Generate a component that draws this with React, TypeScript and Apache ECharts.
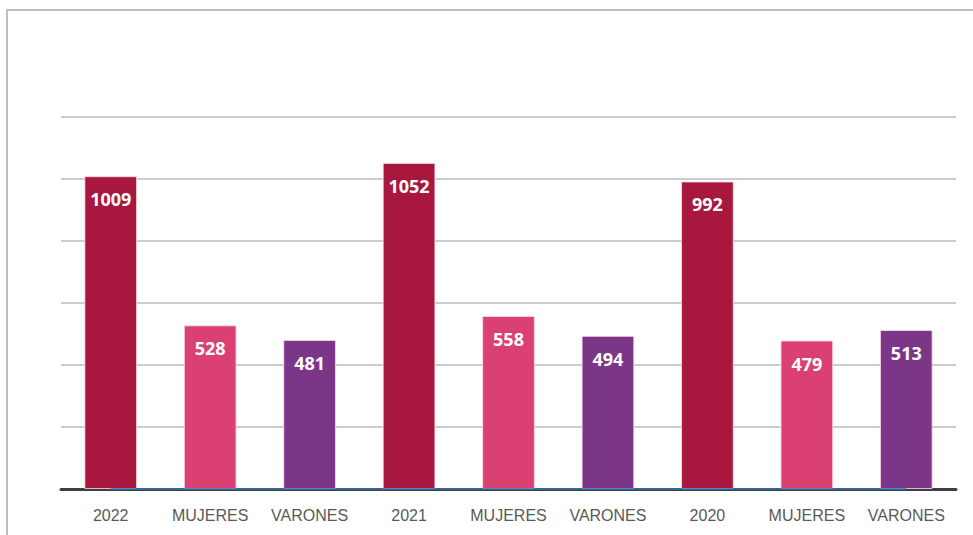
import React, { useEffect, useRef } from "react";
import * as echarts from "echarts";

const categories = ["2022", "MUJERES", "VARONES", "2021", "MUJERES", "VARONES", "2020", "MUJERES", "VARONES"];
const values = [1009, 528, 481, 1052, 558, 494, 992, 479, 513];
const barColors = ["#A8173E", "#DA4172", "#7C3688", "#A8173E", "#DA4172", "#7C3688", "#A8173E", "#DA4172", "#7C3688"];

export default function App() {
  const ref = useRef<HTMLDivElement>(null);
  useEffect(() => {
    document.body.style.margin = "0";
    const chart = echarts.init(ref.current!, null, { renderer: "svg" });
    chart.setOption({
      animation: false,
      backgroundColor: "#ffffff",
      graphic: [
        {
          type: "polyline",
          shape: { points: [[7, 535], [7, 10], [973, 10]] },
          style: { stroke: "#BFBFBF", lineWidth: 2, fill: "none" },
          silent: true,
        },
      ],
      grid: { left: 61, right: 17, top: 117, bottom: 46 },
      xAxis: {
        type: "category",
        data: categories,
        axisTick: { show: false },
        axisLine: { show: true, lineStyle: { color: "#3F3F3F", width: 3 } },
        axisLabel: {
          color: "#595959",
          fontFamily: "Liberation Sans, Arial, sans-serif",
          fontSize: 16,
          margin: 18,
          interval: 0,
        },
      },
      yAxis: {
        type: "value",
        min: 0,
        max: 1200,
        interval: 200,
        axisLabel: { show: false },
        axisLine: { show: false },
        axisTick: { show: false },
        splitLine: { lineStyle: { color: "#CCCCCC", width: 2 } },
      },
      series: [
        {
          type: "bar",
          barWidth: "53%",
          data: values.map((v, i) => ({
            value: v,
            itemStyle: { color: barColors[i], borderColor: "rgba(255,220,230,0.8)", borderWidth: 1 },
          })),
          label: {
            show: true,
            position: "insideTop",
            distance: 14,
            color: "#ffffff",
            fontWeight: "bold",
            fontSize: 18,
            fontFamily: "Open Sans, Liberation Sans, sans-serif",
          },
          markLine: {
            silent: true,
            symbol: "none",
            label: { show: false },
            lineStyle: { color: "#2E75B6", width: 1.5, type: "solid" },
            data: [[{ xAxis: 0, yAxis: 0 }, { xAxis: 8, yAxis: 0 }]],
          },
        },
      ],
    });
    return () => chart.dispose();
  }, []);
  return <div ref={ref} style={{ width: 973, height: 535 }} />;
}
